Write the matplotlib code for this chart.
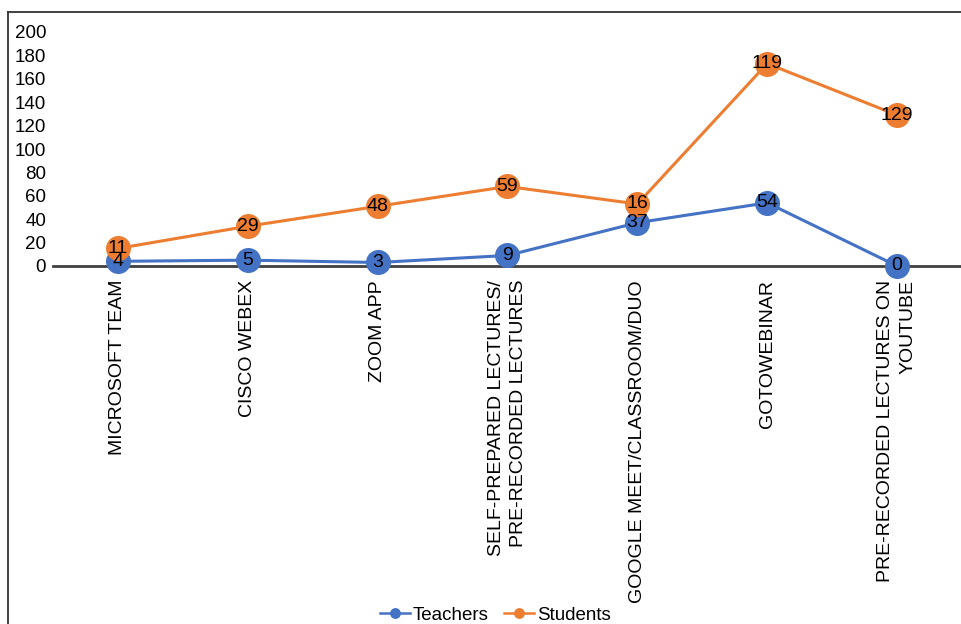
import numpy as np
import matplotlib.pyplot as plt
from matplotlib.lines import Line2D

plt.rcParams['font.family'] = ['Liberation Sans', 'DejaVu Sans']

# Platforms used (stacked line chart: students drawn on top of teachers)
platforms = ['MICROSOFT TEAM', 'CISCO WEBEX', 'ZOOM APP',
             'SELF-PREPARED LECTURES/\nPRE-RECORDED LECTURES',
             'GOOGLE MEET/CLASSROOM/DUO', 'GOTOWEBINAR',
             'PRE-RECORDED LECTURES ON\nYOUTUBE']
teachers = [4, 5, 3, 9, 37, 54, 0]
students = [11, 29, 48, 59, 16, 119, 129]

blue = '#4472C4'
orange = '#ED7D31'

fig = plt.figure(figsize=(9.62, 6.24), dpi=100)
ax = fig.add_axes([53 / 962, 1 - 266 / 624, 1 - 53 / 962, (266 - 32) / 624])

x = np.arange(len(platforms))
teachers_arr = np.array(teachers)
students_top = teachers_arr + np.array(students)

ax.plot(x, teachers_arr, color=blue, lw=2.2, marker='o', ms=17,
        label='Teachers', clip_on=False, zorder=3)
ax.plot(x, students_top, color=orange, lw=2.2, marker='o', ms=17,
        label='Students', clip_on=False, zorder=3)

# Data labels centred on the markers
for xi, yi, v in zip(x, teachers_arr, teachers):
    ax.text(xi, yi, str(v), ha='center', va='center', fontsize=14, zorder=4)
for xi, yi, v in zip(x, students_top, students):
    ax.text(xi, yi, str(v), ha='center', va='center', fontsize=14, zorder=4)

ax.set_xlim(-0.5, 6.5)
ax.set_ylim(0, 200)
ax.set_yticks(np.arange(0, 201, 20))
ax.tick_params(axis='y', length=0, pad=5, labelsize=13.5)
ax.tick_params(axis='x', length=0, pad=10, labelsize=14)
ax.set_xticks(x)
ax.set_xticklabels(platforms, rotation=90, va='top', ha='center',
                   multialignment='right', linespacing=1.45)

for side in ['top', 'right', 'left']:
    ax.spines[side].set_visible(False)
ax.spines['bottom'].set_color('#404040')
ax.spines['bottom'].set_linewidth(2)

leg = ax.legend(loc='lower center', bbox_to_anchor=(0.515, -0.027),
                bbox_transform=fig.transFigure, ncol=2, frameon=False,
                fontsize=13.5, handlelength=1.6, handletextpad=0.15,
                columnspacing=0.8, markerscale=0.4)
for h in leg.legend_handles:
    h.set_linewidth(1.8)

# Outer frame (left and top edges visible in the original)
fig.add_artist(Line2D([8 / 962, 8 / 962], [0, 1 - 12 / 624],
                      color='#333333', lw=1.3, transform=fig.transFigure))
fig.add_artist(Line2D([8 / 962, 1], [1 - 12 / 624, 1 - 12 / 624],
                      color='#333333', lw=1.3, transform=fig.transFigure))

fig.savefig('out.png', dpi=100)
